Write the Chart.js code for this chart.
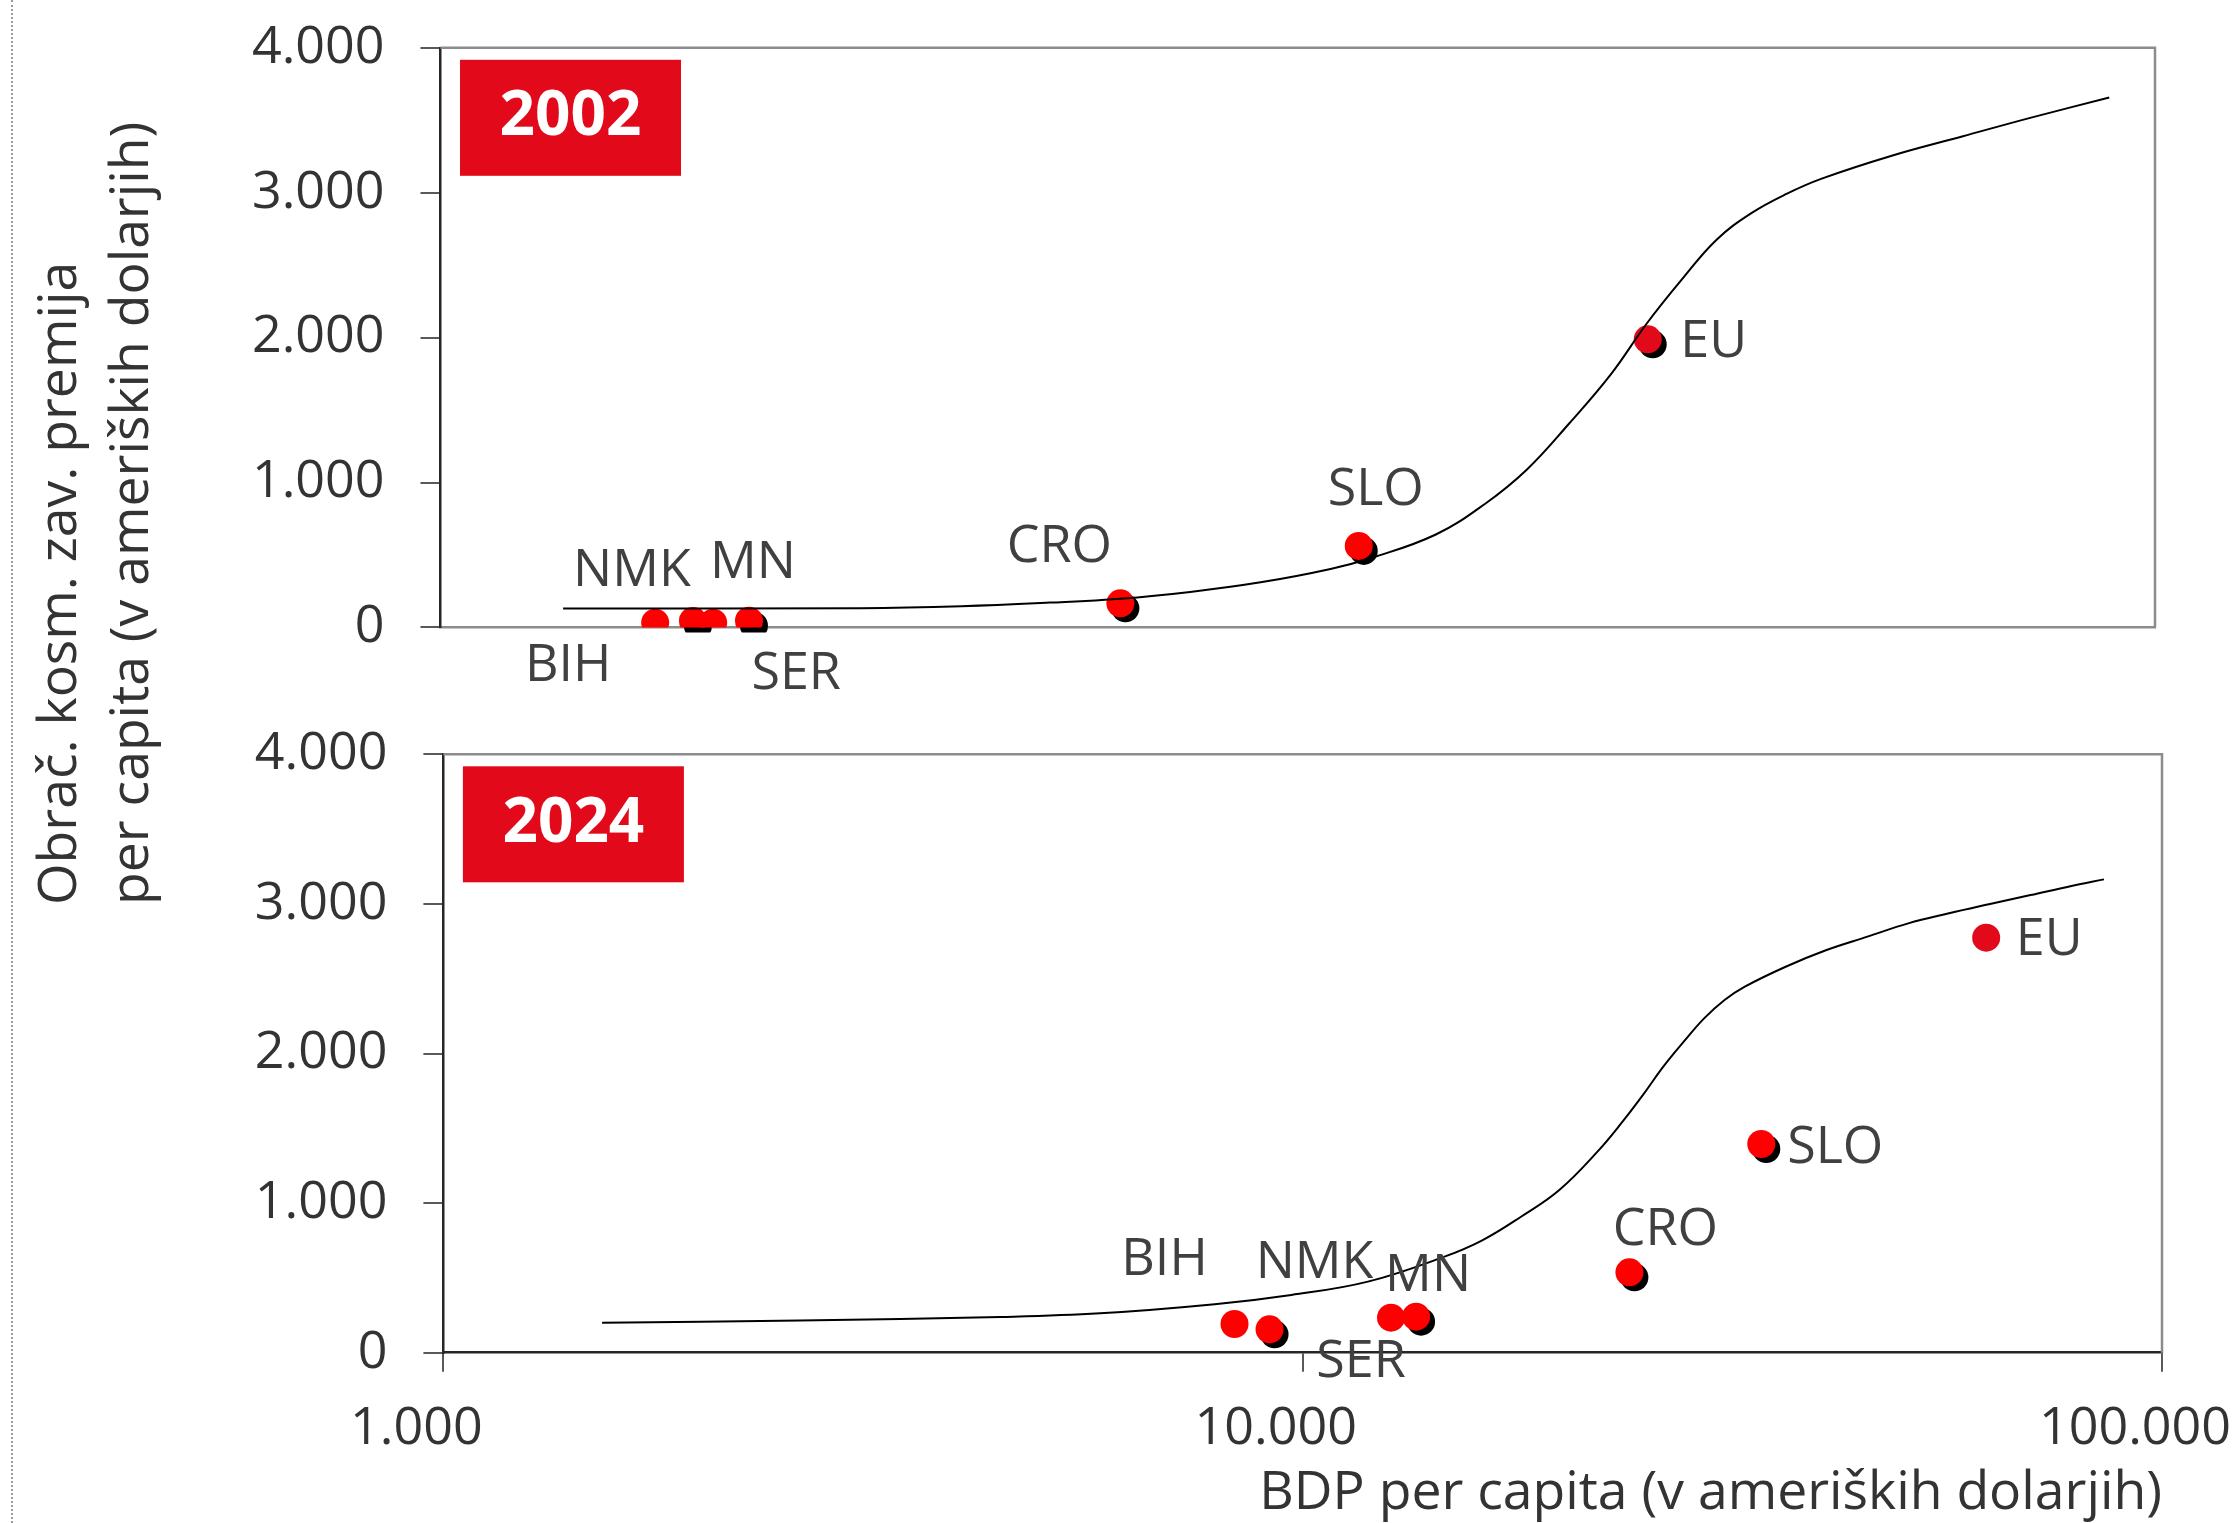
<!DOCTYPE html>
<html>
<head>
<meta charset="utf-8">
<script src="https://cdn.jsdelivr.net/npm/chart.js@4.4.1/dist/chart.umd.min.js"></script>
<style>
  body { margin: 0; background: #fff; }
  #page { position: relative; width: 2233px; height: 1523px; overflow: hidden; font-family: 'Open Sans', sans-serif; }
  .holder { position: absolute; left: 0; width: 2233px; }
  #holder2002 { top: 0; height: 700px; }
  #holder2024 { top: 700px; height: 823px; }
  #dots { position: absolute; left: 11px; top: 0; height: 1523px; border-left: 2px dotted #9a9a9a; }
  #ytitle { position: absolute; left: 20px; top: 905px; transform-origin: 0 0; transform: rotate(-90deg);
            white-space: pre; font-size: 53.5px; line-height: 72px; color: #333; }
</style>
</head>
<body>
<div id="page">
  <div id="dots"></div>
  <div class="holder" id="holder2002"><canvas id="chart2002"></canvas></div>
  <div class="holder" id="holder2024"><canvas id="chart2024"></canvas></div>
  <div id="ytitle"></div>
</div>
<script>
// data
const countries = ['BIH', 'NMK', 'SER', 'MN', 'CRO', 'SLO', 'EU']
const years = ['2002', '2024']

const gdp2002 = [1780, 1970, 2080, 2290, 6210, 11780, 25600]
const premium2002 = [32, 44, 32, 46, 166, 562, 1988]
const gdp2024 = [8330, 9150, 12670, 13550, 24000, 34170, 62430]
const premium2024 = [192, 156, 234, 241, 537, 1395, 2774]

// fitted curves
const trendGdp2002 = [1390, 3090, 4050, 5140, 6210, 7490, 9050, 10920, 12230, 14490, 16530, 18510, 20730, 23210, 25510, 28030, 30780, 33820, 37170, 40860, 49310, 59560, 71880, 88440]
const trend2002 = [131, 133, 146, 171, 198, 245, 311, 403, 482, 641, 852, 1090, 1407, 1750, 2094, 2398, 2674, 2859, 2992, 3097, 3255, 3388, 3520, 3657]
const trendGdp2024 = [1530, 2600, 4450, 5810, 7900, 9700, 11910, 14620, 16200, 17950, 19890, 22030, 23560, 24890, 26280, 27760, 29320, 30970, 32700, 36480, 40700, 45410, 50660, 56510, 63070, 70320, 78460, 85600]
const trend2024 = [200, 215, 239, 263, 324, 386, 475, 642, 753, 909, 1088, 1344, 1544, 1723, 1912, 2079, 2235, 2358, 2447, 2580, 2692, 2781, 2870, 2937, 2999, 3059, 3120, 3164]

const xTicks = [1000, 10000, 100000]
const yTicks = [0, 1000, 2000, 3000, 4000]

const xTitle = 'BDP per capita (v ameriških dolarjih)'
const yTitle = ['Obrač. kosm. zav. premija', 'per capita (v ameriških dolarjih)']

// styling
const FONT = "'Open Sans', sans-serif"
const RED = '#ff0000'
const EU_RED = '#e20a1a'
const labelShift2002 = [[-87, 43], [-61, -50], [83, 51], [4, -58], [-61, -56], [17, -56], [66, 3]]
const labelShift2024 = [[-70, -64], [45, -66], [-30, 44], [12, -40], [36, -42], [74, 4], [63, 2]]
const shadow2002 = [false, true, false, true, true, true, true]
const shadow2024 = [false, true, false, true, true, true, false]

document.getElementById('ytitle').textContent = yTitle.join('\n')

const fmt = v => String(v).replace(/\B(?=(\d{3})+(?!\d))/g, '.')

const framePlugin = {
    id: 'frame',
    beforeDatasetsDraw(chart) {
        const { ctx, chartArea: a } = chart
        ctx.save()
        ctx.strokeStyle = '#8c8c8c'
        ctx.lineWidth = 2.5
        ctx.beginPath()
        ctx.moveTo(a.left, a.top)
        ctx.lineTo(a.right, a.top)
        ctx.lineTo(a.right, a.bottom)
        ctx.stroke()
        ctx.restore()
    }
}

const badgePlugin = {
    id: 'badge',
    afterDraw(chart, args, opts) {
        const { ctx, chartArea: a } = chart
        ctx.save()
        ctx.fillStyle = EU_RED
        ctx.fillRect(a.left + 19.5, a.top + 12, 221, 116)
        ctx.fillStyle = '#fff'
        ctx.font = 'bold 62px ' + FONT
        ctx.textAlign = 'center'
        ctx.textBaseline = 'middle'
        ctx.fillText(opts.text, a.left + 19.5 + 110.5, a.top + 12 + 58)
        ctx.restore()
    }
}

const shadowPlugin = {
    id: 'shadowShift',
    beforeDatasetDraw(chart, args) {
        if (chart.data.datasets[args.index].isShadow) {
            chart.ctx.save()
            chart.ctx.translate(5, 5)
        }
    },
    afterDatasetDraw(chart, args) {
        if (chart.data.datasets[args.index].isShadow) chart.ctx.restore()
    }
}

const labelPlugin = {
    id: 'pointLabels',
    afterDatasetsDraw(chart, args, opts) {
        const { ctx } = chart
        const meta = chart.getDatasetMeta(1)
        ctx.save()
        ctx.font = '52px ' + FONT
        ctx.fillStyle = '#404040'
        ctx.textAlign = 'center'
        ctx.textBaseline = 'middle'
        meta.data.forEach((pt, i) => {
            const s = opts.shift[i]
            ctx.fillText(countries[i], pt.x + s[0], pt.y + s[1])
        })
        ctx.restore()
    }
}

function buildChart(canvasId, year, gdp, premium, trendX, trendY, shadow, shift, bottom) {
    const points = gdp.map((g, i) => ({ x: g, y: premium[i] }))
    const shadowPoints = points.filter((p, i) => shadow[i])
    const curve = trendX.map((g, i) => ({ x: g, y: trendY[i] }))
    const height = bottom ? 823 : 700

    return new Chart(document.getElementById(canvasId), {
        type: 'scatter',
        data: {
            datasets: [
                {
                    data: shadowPoints,
                    isShadow: true,
                    backgroundColor: '#000',
                    borderWidth: 0,
                    pointRadius: 14,
                    order: 3
                },
                {
                    data: points,
                    backgroundColor: countries.map(c => c === 'EU' ? EU_RED : RED),
                    borderWidth: 0,
                    pointRadius: 14,
                    order: 2
                },
                {
                    type: 'line',
                    data: curve,
                    borderColor: '#000',
                    borderWidth: 2,
                    pointRadius: 0,
                    tension: 0.4,
                    fill: false,
                    order: 1
                }
            ]
        },
        options: {
            responsive: true,
            maintainAspectRatio: false,
            devicePixelRatio: 1,
            animation: false,
            events: [],
            layout: {
                padding: bottom
                    ? { top: 54.3, right: 71, bottom: 0, left: 0 }
                    : { top: 47.8, right: 78, bottom: 0, left: 0 }
            },
            plugins: {
                legend: { display: false },
                tooltip: { enabled: false },
                badge: { text: year },
                pointLabels: { shift: shift }
            },
            scales: {
                x: {
                    type: 'logarithmic',
                    min: 1000,
                    max: 100000,
                    afterBuildTicks: s => { s.ticks = xTicks.map(v => ({ value: v })) },
                    afterFit: s => {
                        s.height = bottom ? height - 652.7 : height - 627.4
                        s.paddingLeft = 0
                        s.paddingRight = 0
                    },
                    border: { color: bottom ? '#262626' : '#8c8c8c', width: 2.5 },
                    grid: {
                        display: bottom,
                        drawOnChartArea: false,
                        tickLength: 19,
                        color: '#595959',
                        lineWidth: 2
                    },
                    ticks: {
                        display: bottom,
                        padding: 26,
                        labelOffset: -27,
                        maxRotation: 0,
                        autoSkip: false,
                        color: '#333',
                        font: { family: FONT, size: 52 },
                        callback: v => fmt(v)
                    },
                    title: {
                        display: bottom,
                        text: xTitle,
                        align: 'end',
                        color: '#333',
                        padding: 0,
                        font: { family: FONT, size: 53.5, lineHeight: 1.1 }
                    }
                },
                y: {
                    min: 0,
                    max: 4000,
                    afterBuildTicks: s => { s.ticks = yTicks.map(v => ({ value: v })) },
                    afterFit: s => {
                        s.width = bottom ? 443.4 : 440.5
                        s.paddingTop = 0
                        s.paddingBottom = 0
                    },
                    border: { color: '#262626', width: 2.5 },
                    grid: {
                        drawOnChartArea: false,
                        tickLength: 20,
                        color: '#595959',
                        lineWidth: 2
                    },
                    ticks: {
                        padding: 36,
                        color: '#333',
                        font: { family: FONT, size: 52 },
                        callback: v => fmt(v)
                    }
                }
            }
        },
        plugins: [framePlugin, shadowPlugin, labelPlugin, badgePlugin]
    })
}

let chart2002 = buildChart('chart2002', years[0], gdp2002, premium2002, trendGdp2002, trend2002, shadow2002, labelShift2002, false)
let chart2024 = buildChart('chart2024', years[1], gdp2024, premium2024, trendGdp2024, trend2024, shadow2024, labelShift2024, true)
</script>
</body>
</html>
